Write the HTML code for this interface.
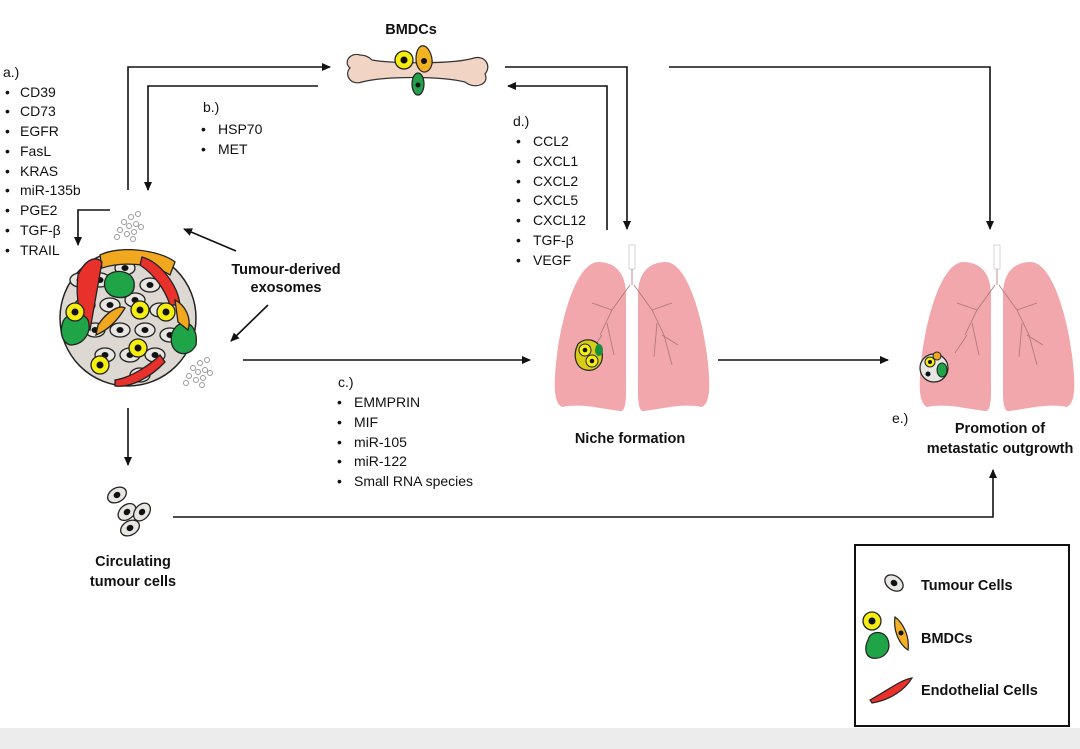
<!DOCTYPE html>
<html><head><meta charset="utf-8"><style>
html,body{margin:0;padding:0;background:#fff;}
svg{display:block;}
text{font-family:"Liberation Sans",sans-serif;fill:#111;}
.l{font-size:14px;}
.b{font-size:14.5px;font-weight:bold;}
</style></head><body>
<svg width="1080" height="749" viewBox="0 0 1080 749" xmlns="http://www.w3.org/2000/svg">
<defs>
<marker id="ar" markerWidth="10" markerHeight="10" refX="8" refY="5" orient="auto" markerUnits="userSpaceOnUse"><path d="M0,1 L9,5 L0,9 Z" fill="#111"/></marker>
<g id="lung">
<path d="M-34,-73 C-55,-72 -70,-20 -75,20 C-79,52 -78,68 -70,72 C-50,68 -30,74 -12,76 C-5,77 -6,60 -6,40 L-6,-40 C-6,-60 -15,-73 -34,-73Z" fill="#f1a7ab"/>
<path d="M34,-73 C55,-72 70,-20 75,20 C79,52 78,68 70,72 C50,68 30,74 12,76 C5,77 6,60 6,40 L6,-40 C6,-60 15,-73 34,-73Z" fill="#f1a7ab"/>
<rect x="-3" y="-90" width="6" height="24" fill="#fff" stroke="#ccc" stroke-width="0.8"/>
<path d="M0,-66 L0,-50 M-2,-50 L-20,-25 L-32,0 M-20,-25 L-40,-32 M-25,-12 L-18,20 M-30,0 L-42,18 M2,-50 L20,-25 L32,0 M20,-25 L40,-32 M25,-12 L22,22 M30,0 L46,10 M32,0 L40,30" stroke="#a77" stroke-width="0.8" fill="none"/>
</g>
<g id="ex" fill="#fff" stroke="#999" stroke-width="1">
<circle cx="0" cy="0" r="2.5"/><circle cx="7" cy="-5" r="2.5"/><circle cx="5" cy="4" r="2.5"/><circle cx="12" cy="2" r="2.5"/><circle cx="-4" cy="8" r="2.5"/><circle cx="3" cy="12" r="2.5"/><circle cx="10" cy="10" r="2.5"/><circle cx="14" cy="-8" r="2.5"/><circle cx="17" cy="5" r="2.5"/><circle cx="-7" cy="15" r="2.5"/><circle cx="9" cy="17" r="2.5"/>
</g>
<g id="tc"><ellipse cx="0" cy="0" rx="10" ry="7" fill="#e8e6e2" stroke="#222" stroke-width="1.3"/><ellipse cx="0" cy="0" rx="3.5" ry="3" fill="#111"/></g>
<g id="yc"><circle cx="0" cy="0" r="9" fill="#f5ee10" stroke="#222" stroke-width="1.3"/><circle r="3.5" fill="#111"/></g>
</defs>

<rect x="0" y="728" width="1080" height="21" fill="#ececec"/>

<text x="3" y="77" class="l">a.)</text>
<g class="l">
<text x="5" y="97">•</text><text x="20" y="97">CD39</text>
<text x="5" y="116">•</text><text x="20" y="116">CD73</text>
<text x="5" y="136">•</text><text x="20" y="136">EGFR</text>
<text x="5" y="156">•</text><text x="20" y="156">FasL</text>
<text x="5" y="176">•</text><text x="20" y="176">KRAS</text>
<text x="5" y="195">•</text><text x="20" y="195">miR-135b</text>
<text x="5" y="215">•</text><text x="20" y="215">PGE2</text>
<text x="5" y="235">•</text><text x="20" y="235">TGF-β</text>
<text x="5" y="255">•</text><text x="20" y="255">TRAIL</text>
</g>
<text x="203" y="112" class="l">b.)</text>
<text x="201" y="134" class="l">•</text><text x="218" y="134" class="l">HSP70</text>
<text x="201" y="154" class="l">•</text><text x="218" y="154" class="l">MET</text>
<text x="338" y="387" class="l">c.)</text>
<g class="l">
<text x="337" y="407">•</text><text x="354" y="407">EMMPRIN</text>
<text x="337" y="427">•</text><text x="354" y="427">MIF</text>
<text x="337" y="447">•</text><text x="354" y="447">miR-105</text>
<text x="337" y="466">•</text><text x="354" y="466">miR-122</text>
<text x="337" y="486">•</text><text x="354" y="486">Small RNA species</text>
</g>
<text x="513" y="126" class="l">d.)</text>
<g class="l">
<text x="516" y="146">•</text><text x="533" y="146">CCL2</text>
<text x="516" y="166">•</text><text x="533" y="166">CXCL1</text>
<text x="516" y="186">•</text><text x="533" y="186">CXCL2</text>
<text x="516" y="205">•</text><text x="533" y="205">CXCL5</text>
<text x="516" y="225">•</text><text x="533" y="225">CXCL12</text>
<text x="516" y="245">•</text><text x="533" y="245">TGF-β</text>
<text x="516" y="265">•</text><text x="533" y="265">VEGF</text>
</g>
<text x="892" y="423" class="l">e.)</text>

<text x="411" y="34" class="b" text-anchor="middle">BMDCs</text>
<text x="286" y="274" class="b" text-anchor="middle">Tumour-derived</text>
<text x="286" y="292" class="b" text-anchor="middle">exosomes</text>
<text x="630" y="443" class="b" text-anchor="middle">Niche formation</text>
<text x="1000" y="433" class="b" text-anchor="middle">Promotion of</text>
<text x="1000" y="453" class="b" text-anchor="middle">metastatic outgrowth</text>
<text x="133" y="566" class="b" text-anchor="middle">Circulating</text>
<text x="133" y="586" class="b" text-anchor="middle">tumour cells</text>

<g stroke="#111" stroke-width="1.6" fill="none">
<path d="M128,190 L128,67 L330,67" marker-end="url(#ar)"/>
<path d="M318,86 L148,86 L148,190" marker-end="url(#ar)"/>
<path d="M110,210 L78,210 L78,245" marker-end="url(#ar)"/>
<path d="M236,251 L184,229" marker-end="url(#ar)"/>
<path d="M268,305 L231,341" marker-end="url(#ar)"/>
<path d="M243,360 L530,360" marker-end="url(#ar)"/>
<path d="M128,408 L128,465" marker-end="url(#ar)"/>
<path d="M173,517 L993,517 L993,470" marker-end="url(#ar)"/>
<path d="M505,67 L627,67 L627,229" marker-end="url(#ar)"/>
<path d="M607,230 L607,86 L508,86" marker-end="url(#ar)"/>
<path d="M669,67 L990,67 L990,229" marker-end="url(#ar)"/>
<path d="M718,360 L888,360" marker-end="url(#ar)"/>
</g>

<path d="M360,55 C350,52 343,62 350,68 C344,74 350,86 362,82 C385,76 440,76 465,82 C475,90 490,84 485,74 C492,66 485,55 474,58 C455,64 395,64 372,60 C368,56 364,55 360,55Z" fill="#f2d4c4" stroke="#333" stroke-width="1.2"/>
<g transform="translate(404,60)"><use href="#yc"/></g>
<path d="M421,46 C428,44 433,56 432,64 C430,72 424,74 420,70 C414,64 415,50 421,46Z" fill="#f3b224" stroke="#222" stroke-width="1.2"/><circle cx="424" cy="61" r="3" fill="#111"/>
<ellipse cx="418" cy="84" rx="6" ry="11" fill="#23a04a" stroke="#222" stroke-width="1.2"/><circle cx="418" cy="85" r="2.5" fill="#111"/>

<g transform="translate(124,222)"><use href="#ex"/></g>
<g transform="translate(193,368)"><use href="#ex"/></g>

<g>
<circle cx="128" cy="318" r="68" fill="#ddd9d2" stroke="#222" stroke-width="1.5"/>
<g>
<use href="#tc" x="100" y="280"/><use href="#tc" x="125" y="268"/><use href="#tc" x="150" y="285"/><use href="#tc" x="85" y="305"/>
<use href="#tc" x="110" y="305"/><use href="#tc" x="135" y="300"/><use href="#tc" x="160" y="310"/><use href="#tc" x="95" y="330"/>
<use href="#tc" x="120" y="330"/><use href="#tc" x="145" y="330"/><use href="#tc" x="170" y="335"/><use href="#tc" x="105" y="355"/>
<use href="#tc" x="130" y="355"/><use href="#tc" x="155" y="355"/><use href="#tc" x="80" y="280"/><use href="#tc" x="140" y="375"/>
</g>
<path d="M100,255 C120,245 160,250 175,262 L170,275 C150,262 120,262 102,268Z" fill="#f2a81e" stroke="#222" stroke-width="1.3"/>
<path d="M142,257 C160,262 178,285 180,305 L170,305 C165,290 155,275 140,265Z" fill="#e8312b" stroke="#222" stroke-width="1.3"/>
<path d="M78,275 C85,260 95,255 102,262 L90,330 C80,320 75,300 78,275Z" fill="#e8312b" stroke="#222" stroke-width="1.3"/>
<path d="M108,275 C118,268 132,272 134,282 C136,296 124,300 112,296 C104,292 102,282 108,275Z" fill="#1fa448" stroke="#222" stroke-width="1.3"/>
<path d="M62,325 C64,312 82,310 88,320 C92,332 84,345 70,345 C62,342 60,333 62,325Z" fill="#1fa448" stroke="#222" stroke-width="1.3"/>
<path d="M178,325 C190,318 198,330 196,345 C190,357 176,356 172,345 C170,336 172,330 178,325Z" fill="#1fa448" stroke="#222" stroke-width="1.3"/>
<path d="M98,325 C108,310 120,305 125,308 C118,320 108,330 96,335Z" fill="#f2a81e" stroke="#222" stroke-width="1.3"/>
<path d="M175,300 C185,305 192,318 188,330 L178,322Z" fill="#f2a81e" stroke="#222" stroke-width="1.3"/>
<path d="M115,380 C130,378 150,365 160,355 L165,362 C150,378 130,388 115,386Z" fill="#e8312b" stroke="#222" stroke-width="1.3"/>
<use href="#yc" x="140" y="310"/><use href="#yc" x="166" y="312"/><use href="#yc" x="138" y="348"/><use href="#yc" x="100" y="365"/><use href="#yc" x="75" y="312"/>
</g>

<g transform="translate(117,495) rotate(-30)"><use href="#tc"/></g>
<g transform="translate(127,512) rotate(-40)"><use href="#tc"/></g>
<g transform="translate(142,512) rotate(-50)"><use href="#tc"/></g>
<g transform="translate(130,528) rotate(-30)"><use href="#tc"/></g>

<g transform="translate(632,335)"><use href="#lung"/></g>
<g transform="translate(586,352)">
<path d="M-8,-8 C0,-16 14,-12 16,0 C18,12 10,20 0,18 C-10,16 -14,4 -8,-8Z" fill="#d8cc1a" stroke="#222" stroke-width="1.2"/>
<circle cx="-1" cy="-2" r="6" fill="#f5ee10" stroke="#222"/><circle cx="-1" cy="-2" r="2.3" fill="#111"/>
<circle cx="6" cy="9" r="6" fill="#f5ee10" stroke="#222"/><circle cx="6" cy="9" r="2.3" fill="#111"/>
<ellipse cx="13" cy="-2" rx="4" ry="6" fill="#1a8f3e"/>
</g>
<g transform="translate(997,335)"><use href="#lung"/></g>
<g transform="translate(934,368)">
<circle cx="0" cy="0" r="14" fill="#e8e6e2" stroke="#222" stroke-width="1.2"/>
<circle cx="-4" cy="-6" r="5" fill="#f5ee10" stroke="#222"/><circle cx="-4" cy="-6" r="2" fill="#111"/>
<ellipse cx="8" cy="2" rx="5" ry="7" fill="#1fa448" stroke="#222"/>
<circle cx="-6" cy="6" r="2.5" fill="#111"/><circle cx="3" cy="-12" r="4" fill="#f2a81e" stroke="#222"/>
</g>

<rect x="855" y="545" width="214" height="181" fill="#fff" stroke="#111" stroke-width="2"/>
<g transform="translate(894,583) rotate(35)"><use href="#tc"/></g>
<text x="921" y="590" class="b">Tumour Cells</text>
<use href="#yc" x="872" y="621"/>
<path d="M868,640 C870,630 885,630 888,640 C892,652 882,660 872,658 C864,656 865,646 868,640Z" fill="#1fa448" stroke="#222" stroke-width="1.2"/>
<path d="M895,617 C902,622 910,635 908,650 C900,645 893,632 895,617Z" fill="#f2b024" stroke="#222" stroke-width="1.2"/><circle cx="901" cy="633" r="2.5" fill="#111"/>
<text x="921" y="643" class="b">BMDCs</text>
<path d="M870,700 C885,692 900,680 912,678 C905,690 890,700 872,703Z" fill="#e8312b" stroke="#222" stroke-width="1.2"/>
<text x="921" y="695" class="b">Endothelial Cells</text>
</svg>
</body></html>
